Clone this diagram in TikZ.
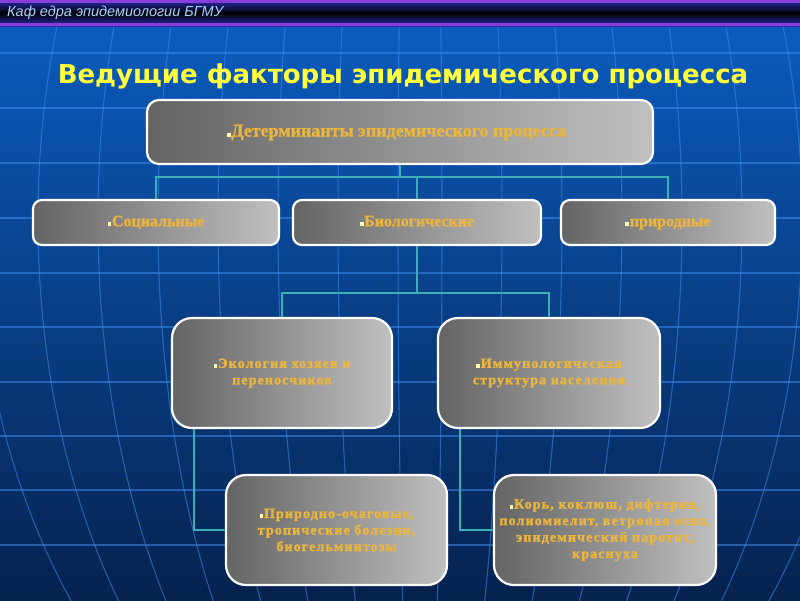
\documentclass[tikz,border=0pt]{standalone}
\usepackage{fontspec}
\setmainfont{Liberation Serif}
\newfontfamily\hdrfont{Liberation Sans}
\newfontfamily\ttlfont{DejaVu Sans}
\newfontfamily\boxfont[LetterSpace=8, BoldFeatures={FakeBold=2}]{Liberation Serif}
\newfontfamily\boxfontb[BoldFeatures={FakeBold=1.2}]{Liberation Serif}
\usetikzlibrary{calc}
\definecolor{bgtop}{HTML}{0C5EC2}
\definecolor{bgmid}{HTML}{0A3F8E}
\definecolor{bgbot}{HTML}{06224E}
\definecolor{gridc}{HTML}{3A8AF0}
\definecolor{hdrpur}{HTML}{8A3CD8}
\definecolor{hdrblue}{HTML}{2A2AB0}
\definecolor{hdrtext}{HTML}{A8D4FF}
\definecolor{ttlc}{HTML}{FFFF3C}
\definecolor{boxl}{HTML}{646464}
\definecolor{boxr}{HTML}{C0C0C0}
\definecolor{goldc}{HTML}{ECB53C}
\definecolor{bulc}{HTML}{FFFFB0}
\definecolor{linkc}{HTML}{38B0B4}
\newcommand\bul{\textcolor{bulc}{\rule{3.8pt}{3.8pt}}\hspace{0.6pt}}
\begin{document}
\begin{tikzpicture}[x=1pt,y=-1pt,
  gridline/.style={draw=gridc, line width=1.1pt, opacity=0.55},
  box/.style={draw=white, line width=2.2pt, rounded corners=#1, left color=boxl, right color=boxr,
    inner sep=0pt, align=center, text=goldc},
  box/.default=10pt,
  link/.style={draw=linkc, line width=2pt}]
\useasboundingbox (0,0) rectangle (800,600);
% background
\shade[top color=bgtop, middle color=bgmid, bottom color=bgbot] (0,0) rectangle (800,600);
\begin{scope}
  \clip (0,26) rectangle (800,600);
  \foreach \yy in {53,108,163,218,273,327,382,436,490,545}
    \draw[gridline] (0,\yy) -- (800,\yy);
  \foreach \aa in {22,82,142,202,262,322,382,442}
    \draw[gridline] (420,220) ellipse [x radius=\aa, y radius=620];
\end{scope}
% header
\shade[top color=hdrblue, bottom color=black] (0,0) rectangle (800,13);
\shade[top color=black, bottom color=hdrblue] (0,13) rectangle (800,26);
\fill[hdrpur] (0,0) rectangle (800,2.5);
\fill[hdrpur] (0,22.5) rectangle (800,26);
\node[anchor=west, inner sep=0pt, text=hdrtext, font=\hdrfont\itshape\fontsize{14.5}{16}\selectfont] (hdr) at (7,13) {Каф едра эпидемиологии БГМУ};
% title
\node[inner sep=0pt, text=ttlc, font=\ttlfont\bfseries\fontsize{26}{30}\selectfont] (title) at (403,76) {Ведущие факторы эпидемического процесса};
% boxes
\node[box=12pt, minimum width=506pt, minimum height=64pt, text height=13pt, text depth=4pt, font=\boxfontb\bfseries\fontsize{18}{20}\selectfont] (top) at (400,132) {\bul Детерминанты эпидемического процесса\hspace{7pt}};
\node[box=9pt, minimum width=246pt, minimum height=45pt, text height=11pt, text depth=3.5pt, font=\boxfontb\bfseries\fontsize{16}{18}\selectfont] (soc) at (156,222.5) {\bul Социальные};
\node[box=9pt, minimum width=248pt, minimum height=45pt, text height=11pt, text depth=3.5pt, font=\boxfontb\bfseries\fontsize{16}{18}\selectfont] (bio) at (417,222.5) {\bul Биологические};
\node[box=9pt, minimum width=214pt, minimum height=45pt, text height=11pt, text depth=3.5pt, font=\boxfontb\bfseries\fontsize{16}{18}\selectfont] (nat) at (668,222.5) {\bul природные};
\node[box=20pt, minimum width=220pt, minimum height=110pt, font=\boxfont\bfseries\fontsize{14}{16.5}\selectfont] (eco) at (282,373) {\bul Экология хозяев и\\переносчиков};
\node[box=20pt, minimum width=222pt, minimum height=110pt, font=\boxfont\bfseries\fontsize{14}{16.5}\selectfont] (imm) at (549,373) {\bul Иммунологическая\\структура населения};
\node[box=20pt, minimum width=221pt, minimum height=110pt, font=\boxfont\bfseries\fontsize{14}{16.5}\selectfont] (pri) at (336.5,530) {\bul Природно-очаговые,\\тропические болезни,\\биогельминтозы};
\node[box=20pt, minimum width=222pt, minimum height=110pt, font=\boxfont\bfseries\fontsize{14}{16.5}\selectfont] (kor) at (605,530) {\bul Корь, коклюш, дифтерия,\\полиомиелит, ветряная оспа,\\эпидемический паротит,\\краснуха};
% connectors
\coordinate (j1) at (400,177);
\coordinate (j2) at (417,293);
\draw[link] (top.south) -- (j1);
\draw[link] (j1) -| (soc.north);
\draw[link] (j1) -| (bio.north);
\draw[link] (j1) -| (nat.north);
\draw[link] (bio.south) -- (j2);
\draw[link] (j2) -| (eco.north);
\draw[link] (j2) -| (imm.north);
\draw[link] ([xshift=23pt]eco.south west) |- (pri.west);
\draw[link] ([xshift=23pt]imm.south west) |- (kor.west);
\end{tikzpicture}
\end{document}
